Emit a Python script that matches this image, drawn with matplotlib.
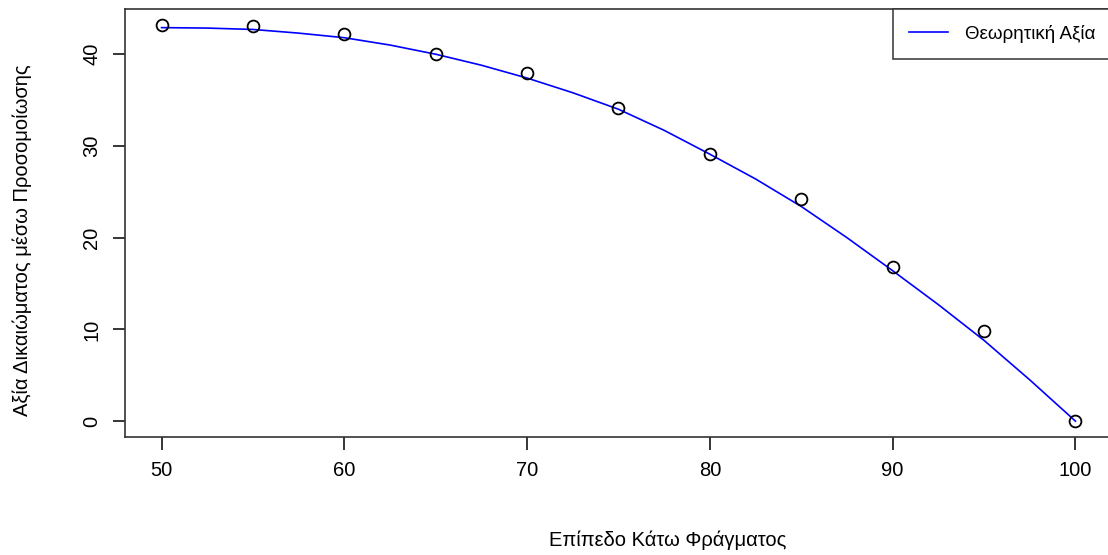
import matplotlib.pyplot as plt
import numpy as np

plt.rcParams['font.family'] = ['Liberation Sans', 'DejaVu Sans']

# simulated option value (points)
barrier = [50, 55, 60, 65, 70, 75, 80, 85, 90, 95, 100]
sim_value = [43.2, 43.1, 42.2, 40.0, 38.0, 34.1, 29.1, 24.2, 16.8, 9.8, 0.0]

# theoretical value (line)
theo_x = [50, 52.5, 55, 57.5, 60, 62.5, 65, 67.5, 70, 72.5, 75, 77.5, 80,
          82.5, 85, 87.5, 90, 92.5, 95, 97.5, 100]
theo_y = [42.9, 42.85, 42.7, 42.3, 41.8, 41.0, 40.0, 38.8, 37.4, 35.8, 34.0,
          31.7, 29.1, 26.4, 23.4, 20.0, 16.4, 12.7, 8.8, 4.5, 0.0]

W, H = 1108, 555
fig = plt.figure(figsize=(W / 100, H / 100), dpi=100)
left, right, top, bottom = 125, 1112, 9, 437
ax = fig.add_axes([left / W, 1 - bottom / H, (right - left) / W, (bottom - top) / H])

ax.plot(barrier, sim_value, 'o', mfc='none', mec='black', ms=8.5, mew=1.3, zorder=3)
ax.plot(theo_x, theo_y, color='blue', lw=1.2, label='Θεωρητική Αξία')

ax.set_xlim(48, 102)
ax.set_ylim(-1.73, 44.93)
ax.set_xticks([50, 60, 70, 80, 90, 100])
ax.set_yticks([0, 10, 20, 30, 40])
ax.tick_params(length=9, width=1.1, labelsize=14.5, pad=8)
for lab in ax.get_yticklabels():
    lab.set_rotation(90)
    lab.set_va('center')
for s in ax.spines.values():
    s.set_linewidth(1.2)
    s.set_color('#333333')

fig.text(668 / W, 1 - 540 / H, 'Επίπεδο Κάτω Φράγματος', ha='center', va='center', fontsize=14.5)
fig.text(22 / W, 1 - 240 / H, 'Αξία Δικαιώματος μέσω Προσομοίωσης', ha='center', va='center',
         rotation=90, fontsize=14.5)

leg = ax.legend(loc='upper left', bbox_to_anchor=(893 / W, 1 - 9 / H), bbox_transform=fig.transFigure,
                borderaxespad=0, fancybox=False, edgecolor='#333333', framealpha=1,
                fontsize=13.5, handlelength=2.1, borderpad=0.85, handletextpad=0.9)
leg.get_frame().set_linewidth(1.1)

fig.savefig('out.png', dpi=100)
